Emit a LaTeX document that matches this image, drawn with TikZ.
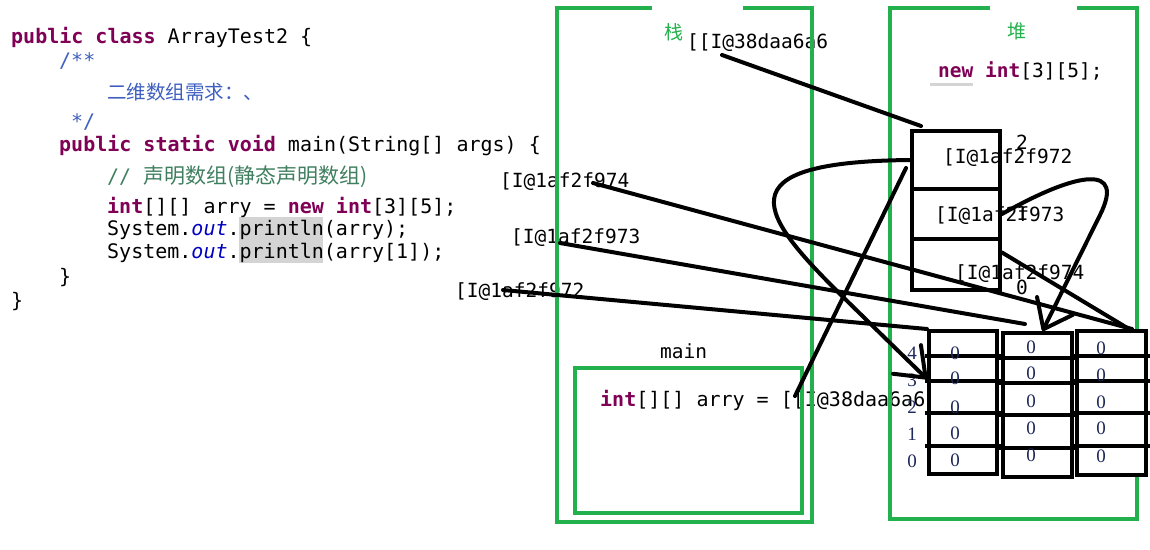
\documentclass[tikz,border=0pt]{standalone}
\usepackage{fontspec}
\setmainfont{Liberation Serif}
\setmonofont{DejaVu Sans Mono}
\newfontfamily\cjk{Noto Sans CJK SC}
\usepackage{tikz}
\usetikzlibrary{arrows.meta}

\definecolor{framegreen}{RGB}{34,177,76}
\definecolor{kwpurple}{RGB}{127,0,85}
\definecolor{docblue}{RGB}{63,95,191}
\definecolor{cmtgreen}{RGB}{63,127,95}
\definecolor{fieldblue}{RGB}{0,0,192}
\definecolor{hlgray}{RGB}{212,212,212}
\definecolor{idxnavy}{RGB}{30,40,90}

\newcommand{\kw}[1]{\textcolor{kwpurple}{\bfseries #1}}

\begin{document}
\begin{tikzpicture}[x=1pt, y=-1pt,
  code/.style={anchor=base west, inner sep=0pt, font=\ttfamily\fontsize{20}{22}\selectfont},
  addr/.style={anchor=base west, inner sep=0pt, font=\ttfamily\fontsize{19.5}{21}\selectfont},
  areaname/.style={inner sep=0pt, text=framegreen, font=\cjk\fontsize{19}{20}\selectfont},
  frame/.style={draw=framegreen, line width=4pt},
  refcell/.style={draw, line width=4pt, minimum width=88pt, inner sep=0pt},
  intcol/.style={draw, fill=white, line width=4pt, inner sep=0pt},
  digit/.style={inner sep=0pt, text=idxnavy, font=\fontsize{19}{21}\selectfont},
  wire/.style={line width=4pt, line cap=round},
  wirearrow/.style={wire, -{Straight Barb[length=26pt, width=40pt, round]}}]
  \fill[white] (0,0) rectangle (1150,549);
  \useasboundingbox (0,0) rectangle (1150,549);

  % source code
  \fill[hlgray] (239,217) rectangle (323,263);
  \node[code] (c1) at (11,43) {\kw{public} \kw{class} ArrayTest2 \{};
  \node[code, text=docblue] (c2) at (59,67) {/**};
  \node[code, text=docblue, font=\cjk\fontsize{19.5}{21}\selectfont] (c3) at (107,99) {二维数组需求：、};
  \node[code, text=docblue] (c4) at (71,128) {*/};
  \node[code] (c5) at (59,151) {\kw{public} \kw{static} \kw{void} main(String[] args) \{};
  \node[code, text=cmtgreen] (c6) at (107,183) {// {\cjk\fontsize{21}{22}\selectfont 声明数组(静态声明数组)}};
  \node[code] (c7) at (107,213) {\kw{int}[][] arry = \kw{new} \kw{int}[3][5];};
  \node[code] (c8) at (107,235) {System.\textcolor{fieldblue}{\itshape out}.println(arry);};
  \node[code] (c9) at (107,258) {System.\textcolor{fieldblue}{\itshape out}.println(arry[1]);};
  \node[code] (c10) at (59,283) {\}};
  \node[code] (c11) at (11,307) {\}};

  % stack
  \node[areaname] (stackname) at (674,32) {栈};
  \node[addr] (topaddr) at (687,48) {[[I@38daa6a6};
  \node[addr] (lbl974) at (500,187) {[I@1af2f974};
  \node[addr] (lbl973) at (511,243) {[I@1af2f973};
  \node[addr] (lbl972) at (455,297) {[I@1af2f972};
  \node[addr] (mainname) at (660,358) {main};
  \node[addr, font=\ttfamily\fontsize{20}{22}\selectfont] (arrydecl) at (600,406) {\kw{int}[][] arry = [[I@38daa6a6};
  \draw[frame] (652,8) -- (557,8) -- (557,522) -- (812,522) -- (812,8) -- (743,8);
  \draw[frame] (575,368) rectangle (802,513);

  % heap
  \node[areaname] (heapname) at (1017,31) {堆};
  \fill[hlgray] (930,83) rectangle (973,86);
  \node[addr] (newexpr) at (938,77) {\kw{new} \kw{int}[3][5];};
  \draw[frame] (990,8) -- (890,8) -- (890,519) -- (1137,519) -- (1137,8) -- (1077,8);

  \node[refcell, minimum height=58pt] (cellA) at (956,160) {};
  \node[refcell, minimum height=50pt] (cellB) at (956,214) {};
  \node[refcell, minimum height=51pt] (cellC) at (956,264.5) {};
  \node[addr] (valA) at (943,163) {[I@1af2f972};
  \node[addr] (valB) at (935,221) {[I@1af2f973};
  \node[addr] (valC) at (955,279) {[I@1af2f974};
  \node[addr, anchor=center] (idxA) at (1022,142) {2};
  \node[addr, anchor=center] (idxB) at (1022,213) {1};
  \node[addr, anchor=center] (idxC) at (1022,287) {0};

  \node[intcol, minimum width=68pt, minimum height=143pt] (col1) at (963,402.5) {};
  \node[intcol, minimum width=69pt, minimum height=144pt] (col2) at (1037.5,405) {};
  \node[intcol, minimum width=69pt, minimum height=144pt] (col3) at (1111.5,403) {};
  \foreach \c in {col1,col2,col3}
    \foreach \d in {27,52,84,117}
      \draw[line width=4pt] ([xshift=-2pt, yshift=-\d pt]\c.north west) -- ([xshift=3pt, yshift=-\d pt]\c.north east);

  \foreach \y [count=\i from 0] in {461,434,407,380,353}
    \node[digit] (row\i) at (912,\y) {\i};
  \foreach \y [count=\i] in {353,378,407,433,460}
    \node[digit] (vA\i) at (955,\y) {0};
  \foreach \y [count=\i] in {347,373,401,428,455}
    \node[digit] (vB\i) at (1031,\y) {0};
  \foreach \y [count=\i] in {348,375,402,428,456}
    \node[digit] (vC\i) at (1101,\y) {0};

  % references
  \draw[wire] ([xshift=35pt, yshift=-7pt]topaddr.base west) -- ([xshift=11pt, yshift=3pt]cellA.north west);
  \draw[wire] ([xshift=195pt, yshift=10pt]arrydecl.base west) -- ([xshift=-4pt, yshift=-8pt]cellA.west);
  \draw[wirearrow] (cellA.west) .. controls (720,162) and (760,215) .. (843,297) -- ([yshift=-50pt]col1.north west);
  \draw[wirearrow] (cellB.east) .. controls (1080,170) and (1125,165) .. (1100,215) -- ([xshift=5pt]col2.north);
  \draw[wire] ([yshift=12pt]cellC.east) -- ([xshift=-19pt]col3.north east);
  \draw[wire] ([xshift=93pt, yshift=4pt]lbl974.base west) -- ([xshift=-16pt]col3.north east);
  \draw[wire] ([xshift=49pt]lbl973.base west) -- ([xshift=24pt, yshift=7pt]col2.north west);
  \draw[wire] ([xshift=48pt, yshift=7pt]lbl972.base west) -- (col1.north west);
\end{tikzpicture}
\end{document}
